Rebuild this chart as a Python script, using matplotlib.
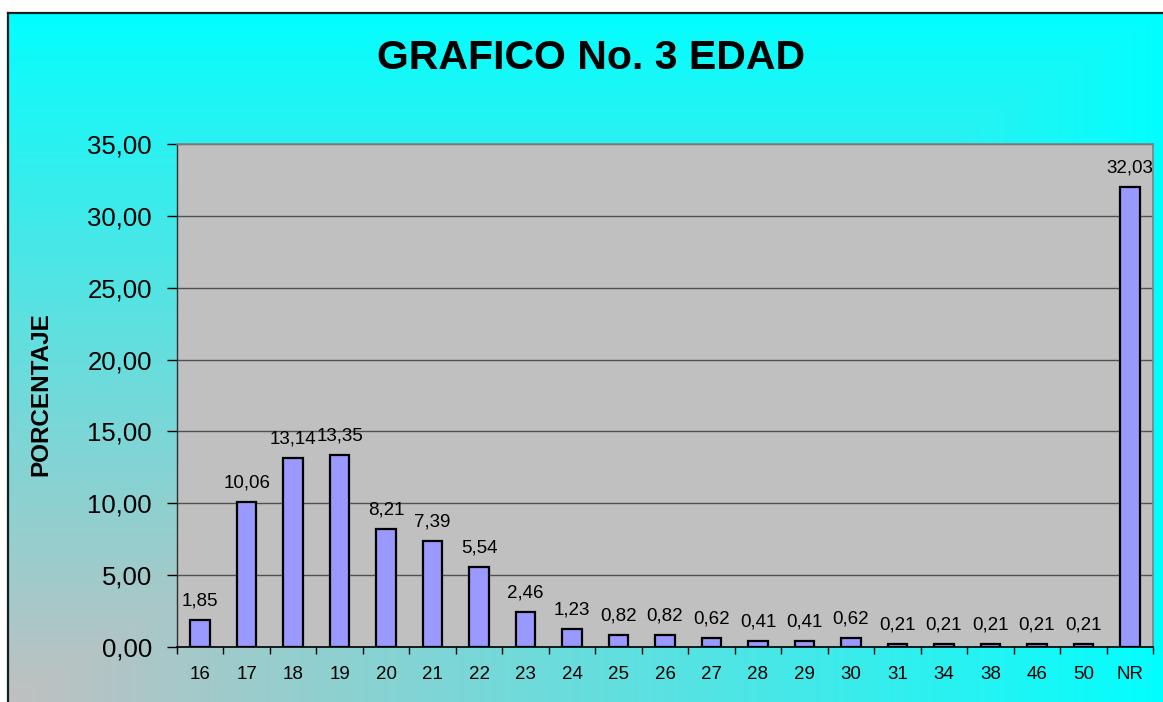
import numpy as np
import matplotlib
matplotlib.use("Agg")
import matplotlib.pyplot as plt

# ---- data ----
categories = ["16", "17", "18", "19", "20", "21", "22", "23", "24", "25", "26",
              "27", "28", "29", "30", "31", "34", "38", "46", "50", "NR"]
values = [1.85, 10.06, 13.14, 13.35, 8.21, 7.39, 5.54, 2.46, 1.23, 0.82, 0.82,
          0.62, 0.41, 0.41, 0.62, 0.21, 0.21, 0.21, 0.21, 0.21, 32.03]
title = "GRAFICO No. 3 EDAD"
ylabel = "PORCENTAJE"
yticks = [0, 5, 10, 15, 20, 25, 30, 35]

W, H = 1163, 702
plt.rcParams['font.family'] = ['Liberation Sans', 'DejaVu Sans']

fig = plt.figure(figsize=(W / 100, H / 100), dpi=100)
fig.patch.set_facecolor("white")

# ---- chart area background (corner gradient cyan -> silver) ----
bg = fig.add_axes([8 / W, 0, 1 - 8 / W, 1 - 13 / H])
ny, nx = 200, 300
yy, xx = np.mgrid[0:1:ny * 1j, 0:1:nx * 1j]
t = np.minimum(1 - xx, yy) ** 0.9
c0 = np.array([0, 255, 255]) / 255.0
c1 = np.array([192, 192, 192]) / 255.0
img = c0[None, None, :] * (1 - t[..., None]) + c1[None, None, :] * t[..., None]
bg.imshow(img, aspect="auto", extent=[0, 1, 0, 1], origin="upper", interpolation="bilinear")
bg.set_xlim(0, 1)
bg.set_ylim(0, 1)
bg.set_xticks([])
bg.set_yticks([])
for s in ["right", "bottom"]:
    bg.spines[s].set_visible(False)
for s in ["left", "top"]:
    bg.spines[s].set_color("#102020")
    bg.spines[s].set_linewidth(1.6)

# ---- plot area ----
left, right = 177 / W, 1153 / W
bottom, top = 1 - 647 / H, 1 - 144 / H
ax = fig.add_axes([left, bottom, right - left, top - bottom])
ax.set_facecolor("#c0c0c0")

x = np.arange(len(categories))
ax.bar(x, values, width=0.42, color="#9999ff", edgecolor="black", linewidth=1.6, zorder=3)

ax.set_xlim(-0.5, len(categories) - 0.5)
ax.set_ylim(0, 35)
ax.set_yticks(yticks)
ax.set_yticklabels([f"{v:.2f}".replace(".", ",") for v in yticks], fontsize=18.5)
ax.yaxis.grid(True, color="#505050", linewidth=1.0, zorder=1)
ax.set_axisbelow(True)

# x ticks at category boundaries, labels centered
ax.set_xticks(np.arange(len(categories) + 1) - 0.5)
ax.set_xticklabels([])
ax.set_xticks(x, minor=True)
ax.set_xticklabels(categories, minor=True, fontsize=13.5)
ax.tick_params(axis="x", which="major", length=5, width=1, color="black", direction="out")
ax.tick_params(axis="x", which="minor", length=0, pad=14)
ax.tick_params(axis="y", length=7, width=1, color="black", direction="out", pad=11)

ax.spines["left"].set_color("#303030")
ax.spines["bottom"].set_color("black")
ax.spines["left"].set_linewidth(1.0)
ax.spines["bottom"].set_linewidth(1.2)
for s in ["top", "right"]:
    ax.spines[s].set_color("#808080")
    ax.spines[s].set_linewidth(1.2)

for xi, v in zip(x, values):
    ax.annotate(f"{v:.2f}".replace(".", ","), (xi, v), xytext=(0, 10.5),
                textcoords="offset points", ha="center", va="baseline",
                fontsize=13.5, color="black", zorder=5, annotation_clip=False)

ax.set_ylabel(ylabel, fontsize=17.5, fontweight="bold")
ax.yaxis.set_label_coords((52.5 - 177) / (1153 - 177), (647 - 394.5) / (647 - 144))

fig.text(591 / W, 1 - 58 / H, title, ha="center", va="center",
         fontsize=29.5, fontweight="bold")

fig.savefig("out.png", dpi=100, facecolor=fig.get_facecolor())
